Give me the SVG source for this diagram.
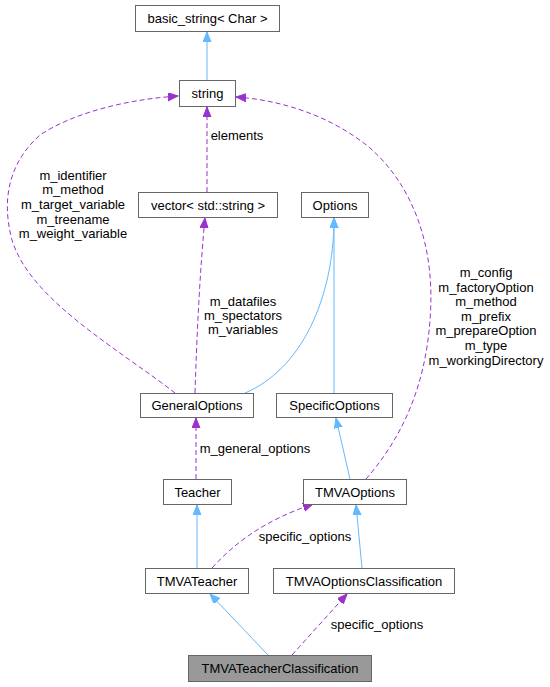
<svg xmlns="http://www.w3.org/2000/svg" width="550" height="687" viewBox="0 0 550 687">
<style>
.n rect{fill:#ffffff;stroke:#666666;stroke-width:1}
.n.h rect{fill:#999999}
text{font-family:"Liberation Sans",Arial,sans-serif;font-size:13px;fill:#000000}
.n text{text-anchor:middle}
.lb text{text-anchor:middle}
.b{fill:none;stroke:#63b8ff;stroke-width:1}
.p{fill:none;stroke:#9a32cd;stroke-width:1;stroke-dasharray:5,3}
</style>
<defs>
<marker id="ab" markerUnits="userSpaceOnUse" markerWidth="11" markerHeight="9" refX="10" refY="4" orient="auto"><path d="M0,0 L10,4 L0,8 z" fill="#63b8ff" stroke="#63b8ff"/></marker>
<marker id="ap" markerUnits="userSpaceOnUse" markerWidth="11" markerHeight="9" refX="10" refY="4" orient="auto"><path d="M0,0 L10,4 L0,8 z" fill="#9a32cd" stroke="#9a32cd"/></marker>
</defs>
<g id="edges">
<path class="b" d="M207,80 L207,32" marker-end="url(#ab)"/>
<path class="p" d="M207,192 L207,107" marker-end="url(#ap)"/>
<path class="p" d="M175,393 C120,350 30,300 12,240 C0,195 12,160 40,135 C70,115 120,100 178,96" marker-end="url(#ap)"/>
<path class="p" d="M195,393 C197,330 200,270 205,218" marker-end="url(#ap)"/>
<path class="b" d="M245,393 C300,370 334,300 334,218" marker-end="url(#ab)"/>
<path class="b" d="M334,393 L334,218" marker-end="url(#ab)"/>
<path class="p" d="M366,479 C400,440 425,390 430,320 C436,245 412,185 370,148 C330,115 280,100 236,97" marker-end="url(#ap)"/>
<path class="b" d="M350,479 L336,418" marker-end="url(#ab)"/>
<path class="p" d="M196,479 L196,418" marker-end="url(#ap)"/>
<path class="b" d="M197,568 L197,505" marker-end="url(#ab)"/>
<path class="p" d="M212,568 C240,537 272,518 313,504" marker-end="url(#ap)"/>
<path class="b" d="M362,568 L356,505" marker-end="url(#ab)"/>
<path class="b" d="M268,655 L210,594" marker-end="url(#ab)"/>
<path class="p" d="M292,655 L347,594" marker-end="url(#ap)"/>
</g>
<g class="lb">
<text x="237" y="140">elements</text>
<text x="73" y="180">m_identifier</text>
<text x="73" y="194">m_method</text>
<text x="73" y="209">m_target_variable</text>
<text x="73" y="224">m_treename</text>
<text x="73" y="238">m_weight_variable</text>
<text x="243" y="306">m_datafiles</text>
<text x="243" y="320">m_spectators</text>
<text x="243" y="334">m_variables</text>
<text x="486" y="277">m_config</text>
<text x="486" y="292">m_factoryOption</text>
<text x="486" y="306">m_method</text>
<text x="486" y="321">m_prefix</text>
<text x="486" y="335">m_prepareOption</text>
<text x="486" y="350">m_type</text>
<text x="486" y="365">m_workingDirectory</text>
<text x="255" y="453">m_general_options</text>
<text x="305" y="541">specific_options</text>
<text x="377" y="629">specific_options</text>
</g>
<g id="basic_string" class="n"><rect x="135.5" y="5.5" width="144" height="26"/><text x="207.5" y="23">basic_string&lt; Char &gt;</text></g>
<g id="string" class="n"><rect x="179.5" y="80.5" width="56" height="26"/><text x="207.5" y="98">string</text></g>
<g id="vector" class="n"><rect x="138.5" y="192.5" width="139" height="25"/><text x="208" y="210">vector&lt; std::string &gt;</text></g>
<g id="Options" class="n"><rect x="301.5" y="192.5" width="67" height="25"/><text x="335" y="210">Options</text></g>
<g id="GeneralOptions" class="n"><rect x="140.5" y="393.5" width="113" height="24"/><text x="197" y="410">GeneralOptions</text></g>
<g id="SpecificOptions" class="n"><rect x="276.5" y="393.5" width="116" height="24"/><text x="334.5" y="410">SpecificOptions</text></g>
<g id="Teacher" class="n"><rect x="163.5" y="479.5" width="68" height="25"/><text x="197.5" y="497">Teacher</text></g>
<g id="TMVAOptions" class="n"><rect x="303.5" y="479.5" width="103" height="25"/><text x="355" y="497">TMVAOptions</text></g>
<g id="TMVATeacher" class="n"><rect x="145.5" y="568.5" width="103" height="25"/><text x="197" y="586">TMVATeacher</text></g>
<g id="TMVAOptionsClassification" class="n"><rect x="273.5" y="568.5" width="181" height="25"/><text x="364" y="586">TMVAOptionsClassification</text></g>
<g id="TMVATeacherClassification" class="n h"><rect x="188.5" y="655.5" width="183" height="26"/><text x="280" y="673">TMVATeacherClassification</text></g>
</svg>
